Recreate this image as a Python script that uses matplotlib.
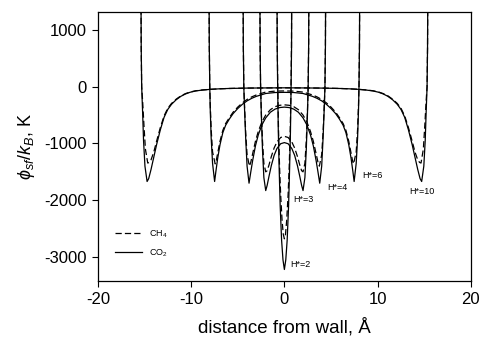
import numpy as np
import matplotlib
matplotlib.use("Agg")
import matplotlib.pyplot as plt

plt.rcParams['font.family'] = ['Liberation Sans', 'DejaVu Sans']
plt.rcParams['axes.unicode_minus'] = False
plt.rcParams['mathtext.fontset'] = 'custom'
plt.rcParams['mathtext.rm'] = 'Liberation Sans'
plt.rcParams['mathtext.it'] = 'Liberation Sans:italic'

# Half-profiles (x >= 0) of the solid-fluid potential in slit pores, K.
# Each pore profile is symmetric about the pore centre.
pores = ["H*=2", "H*=3", "H*=4", "H*=6", "H*=10"]

co2_x_h2 = [0.0, 0.15, 0.3, 0.45, 0.55, 0.65, 0.72, 0.77, 0.82]
co2_y_h2 = [-3220, -3050, -2700, -2100, -1500, -800, 0, 700, 3000]
ch4_x_h2 = [0.0, 0.12, 0.25, 0.4, 0.52, 0.63, 0.71, 0.76, 0.81]
ch4_y_h2 = [-2680, -2600, -2350, -1900, -1400, -750, 0, 700, 3000]

co2_x_h3 = [0.0, 0.4, 0.8, 1.1, 1.4, 1.65, 1.85, 2.0, 2.2, 2.35, 2.47, 2.55, 2.6, 2.66]
co2_y_h3 = [-985, -1005, -1090, -1210, -1390, -1580, -1740, -1830, -1600, -1100, -500, 0, 700, 3000]
ch4_x_h3 = [0.0, 0.4, 0.8, 1.1, 1.4, 1.65, 1.85, 2.0, 2.2, 2.35, 2.47, 2.55, 2.6, 2.66]
ch4_y_h3 = [-875, -895, -975, -1080, -1230, -1380, -1480, -1500, -1350, -950, -450, 0, 700, 3000]

co2_x_h4 = [0.0, 0.5, 1.0, 1.5, 2.0, 2.4, 2.8, 3.1, 3.4, 3.6, 3.79, 4.0, 4.15, 4.27, 4.35, 4.4, 4.46]
co2_y_h4 = [-360, -368, -395, -450, -550, -670, -850, -1040, -1300, -1500, -1700, -1400, -900, -400, 0, 700, 3000]
ch4_x_h4 = [0.0, 0.5, 1.0, 1.5, 2.0, 2.4, 2.8, 3.1, 3.4, 3.6, 3.75, 4.0, 4.15, 4.27, 4.35, 4.4, 4.46]
ch4_y_h4 = [-320, -328, -352, -405, -500, -615, -790, -960, -1180, -1330, -1400, -1200, -800, -350, 0, 700, 3000]

co2_x_h6 = [0.0, 1.0, 2.0, 3.0, 3.5, 4.0, 4.5, 5.0, 5.5, 5.9, 6.3, 6.6, 6.9, 7.15, 7.35, 7.48,
            7.7, 7.85, 7.95, 8.0, 8.05, 8.11]
co2_y_h6 = [-100, -103, -120, -170, -205, -250, -310, -385, -475, -570, -680, -810, -1020, -1260, -1500, -1670,
            -1350, -900, -400, 0, 700, 3000]
ch4_x_h6 = [0.0, 1.0, 2.0, 3.0, 3.5, 4.0, 4.5, 5.0, 5.5, 5.9, 6.3, 6.6, 6.9, 7.15, 7.3, 7.42,
            7.7, 7.85, 7.95, 8.0, 8.05, 8.11]
ch4_y_h6 = [-75, -78, -95, -145, -180, -225, -285, -360, -450, -545, -650, -770, -960, -1170, -1300, -1360,
            -1150, -750, -300, 0, 700, 3000]

co2_x_h10 = [0.0, 2.0, 4.0, 6.0, 7.0, 8.0, 8.8, 9.5, 10.1, 10.6, 11.1, 11.6, 12.1, 12.5, 12.9, 13.3,
             13.7, 14.0, 14.3, 14.55, 14.72, 14.95, 15.1, 15.2, 15.3, 15.35, 15.41]
co2_y_h10 = [-20, -22, -25, -32, -38, -48, -60, -75, -98, -128, -170, -230, -310, -400, -540, -760,
             -1020, -1240, -1460, -1620, -1670, -1400, -950, -450, 0, 700, 3000]
ch4_x_h10 = [0.0, 2.0, 4.0, 6.0, 7.0, 8.0, 8.8, 9.5, 10.1, 10.6, 11.1, 11.6, 12.1, 12.5, 12.9, 13.3,
             13.7, 14.0, 14.3, 14.5, 14.65, 14.9, 15.05, 15.2, 15.3, 15.35, 15.41]
ch4_y_h10 = [-20, -22, -25, -32, -38, -47, -58, -72, -94, -122, -162, -220, -295, -380, -515, -720,
             -960, -1150, -1290, -1335, -1345, -1100, -700, -250, 0, 700, 3000]

co2_curves = [(co2_x_h2, co2_y_h2), (co2_x_h3, co2_y_h3), (co2_x_h4, co2_y_h4),
              (co2_x_h6, co2_y_h6), (co2_x_h10, co2_y_h10)]
ch4_curves = [(ch4_x_h2, ch4_y_h2), (ch4_x_h3, ch4_y_h3), (ch4_x_h4, ch4_y_h4),
              (ch4_x_h6, ch4_y_h6), (ch4_x_h10, ch4_y_h10)]

# Pore label anchor points (data coordinates)
label_x = [0.64, 0.97, 4.6, 8.36, 13.4]
label_y = [-3130, -1990, -1780, -1570, -1850]

x_ticks = [-20, -10, 0, 10, 20]
y_ticks = [-3000, -2000, -1000, 0, 1000]


def full_profile(xh, yh):
    xh = np.asarray(xh, float)
    yh = np.asarray(yh, float)
    x = np.concatenate([-xh[::-1], xh[1:]])
    y = np.concatenate([yh[::-1], yh[1:]])
    return x, y


fig = plt.figure(figsize=(4.82, 3.40), dpi=100)
ax = fig.add_axes([0.203, 0.174, 0.774, 0.791])

for i, (xh, yh) in enumerate(ch4_curves):
    x, y = full_profile(xh, yh)
    ax.plot(x, y, color='black', lw=0.9, ls=(0, (5, 2.5)),
            label='CH$_4$' if i == 0 else None)
for i, (xh, yh) in enumerate(co2_curves):
    x, y = full_profile(xh, yh)
    ax.plot(x, y, color='black', lw=0.9, ls='-',
            label='CO$_2$' if i == 0 else None)

for name, lx, ly in zip(pores, label_x, label_y):
    ax.text(lx, ly, name, fontsize=6.5, ha='left', va='center')

ax.set_xlim(-20, 20)
ax.set_ylim(-3420, 1317)
ax.set_xticks(x_ticks)
ax.set_yticks(y_ticks)
ax.tick_params(direction='out', length=4, width=0.8, labelsize=12, pad=4,
               top=False, right=False)
for s in ax.spines.values():
    s.set_linewidth(0.9)

ax.set_xlabel('distance from wall, Å', fontsize=13.5, labelpad=8)
ax.set_ylabel(r'$\phi_{sf}/k_B$, K', fontsize=13, labelpad=5)

ax.legend(loc='upper left', bbox_to_anchor=(0.045, 0.195), frameon=False,
          fontsize=6.5, handlelength=3.0, borderpad=0, borderaxespad=0,
          labelspacing=0.8, handletextpad=0.8)

fig.savefig('out.png', dpi=100)
